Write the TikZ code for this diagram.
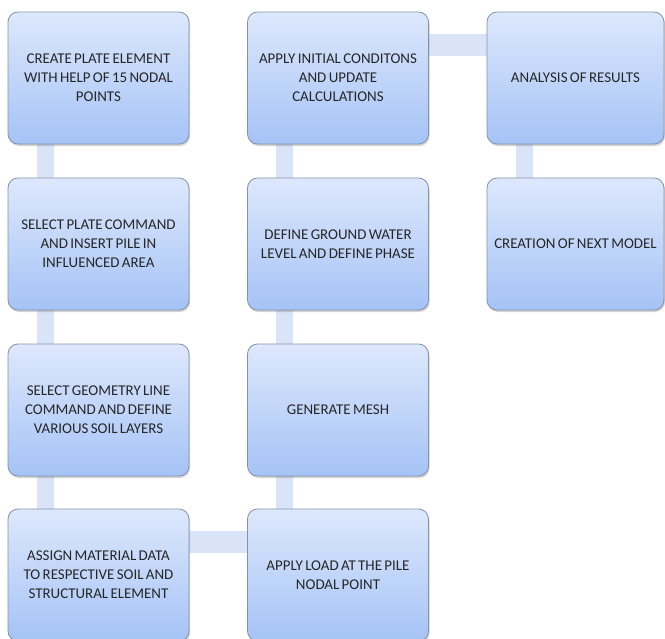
\documentclass[tikz,border=0pt]{standalone}
\usepackage{fontspec}
\setmainfont{Carlito}[WordSpace = 0.7]
\usetikzlibrary{shadows,backgrounds}
\definecolor{boxtop}{HTML}{DDE8FC}
\definecolor{boxbottom}{HTML}{A5C3F6}
\definecolor{boxline}{HTML}{8393AC}
\definecolor{barfill}{HTML}{DAE4F8}
\definecolor{labeltext}{HTML}{262626}
\begin{document}
\begin{tikzpicture}[x = 0.75pt, y = -0.75pt, align = center,
		every node/.style = {draw = boxline, line width = 0.6pt, rounded corners = 7.5pt,
			top color = boxtop, bottom color = boxbottom, text = labeltext,
			minimum width = 135.75pt, minimum height = 99pt, inner sep = 2pt,
			font = \fontsize{11.2}{14.25}\selectfont,
			drop shadow = {opacity = 0.35, shadow xshift = 0.8pt, shadow yshift = -1.5pt}},
		bar/.style = {line width = 12.75pt, draw = barfill},
		wide bar/.style = {line width = 16.5pt, draw = barfill}]
				\useasboundingbox (0,0) rectangle (665,639);
				\node (create)   at ( 98.5, 78) {CREATE PLATE ELEMENT \\ WITH HELP OF 15 NODAL \\ POINTS};
				\node (select)   at ( 98.5,244) {SELECT PLATE COMMAND \\ AND INSERT PILE IN \\ INFLUENCED AREA};
				\node (geometry) at ( 98.5,410) {SELECT GEOMETRY LINE \\ COMMAND AND DEFINE \\ VARIOUS SOIL LAYERS};
				\node (assign)   at ( 98.5,575) {ASSIGN MATERIAL DATA \\ TO RESPECTIVE SOIL AND \\ STRUCTURAL ELEMENT};
				\node (load)     at (338,  575) {APPLY LOAD AT THE PILE \\ NODAL POINT};
				\node (mesh)     at (338,  410) {GENERATE MESH};
				\node (water)    at (338,  244) {DEFINE GROUND WATER \\ LEVEL AND DEFINE PHASE};
				\node (initial)  at (338,   78) {APPLY INITIAL CONDITONS \\ AND UPDATE \\ CALCULATIONS};
				\node[minimum width = 132.75pt] (analysis) at (575.5, 78) {ANALYSIS OF RESULTS};
				\node[minimum width = 132.75pt] (next)     at (575.5,244) {CREATION OF NEXT MODEL};
				\begin{scope}[on background layer]
				\draw[bar] ([xshift = -40pt]create.south) to ([xshift = -40pt]select.north);
				\draw[bar] ([xshift = -40pt]select.south) to ([xshift = -40pt]geometry.north);
				\draw[bar] ([xshift = -40pt]geometry.south) to ([xshift = -40pt]assign.north);
				\draw[wide bar] ([yshift = 24.75pt]assign.east) to ([yshift = 24.75pt]load.west);
				\draw[bar] ([xshift = -40pt]load.north) to ([xshift = -40pt]mesh.south);
				\draw[bar] ([xshift = -40pt]mesh.north) to ([xshift = -40pt]water.south);
				\draw[bar] ([xshift = -40pt]water.north) to ([xshift = -40pt]initial.south);
				\draw[wide bar] ([yshift = 24.75pt]initial.east) to ([yshift = 24.75pt]analysis.west);
				\draw[bar] ([xshift = -38pt]analysis.south) to ([xshift = -38pt]next.north);
				\end{scope}
			\end{tikzpicture}
\end{document}
